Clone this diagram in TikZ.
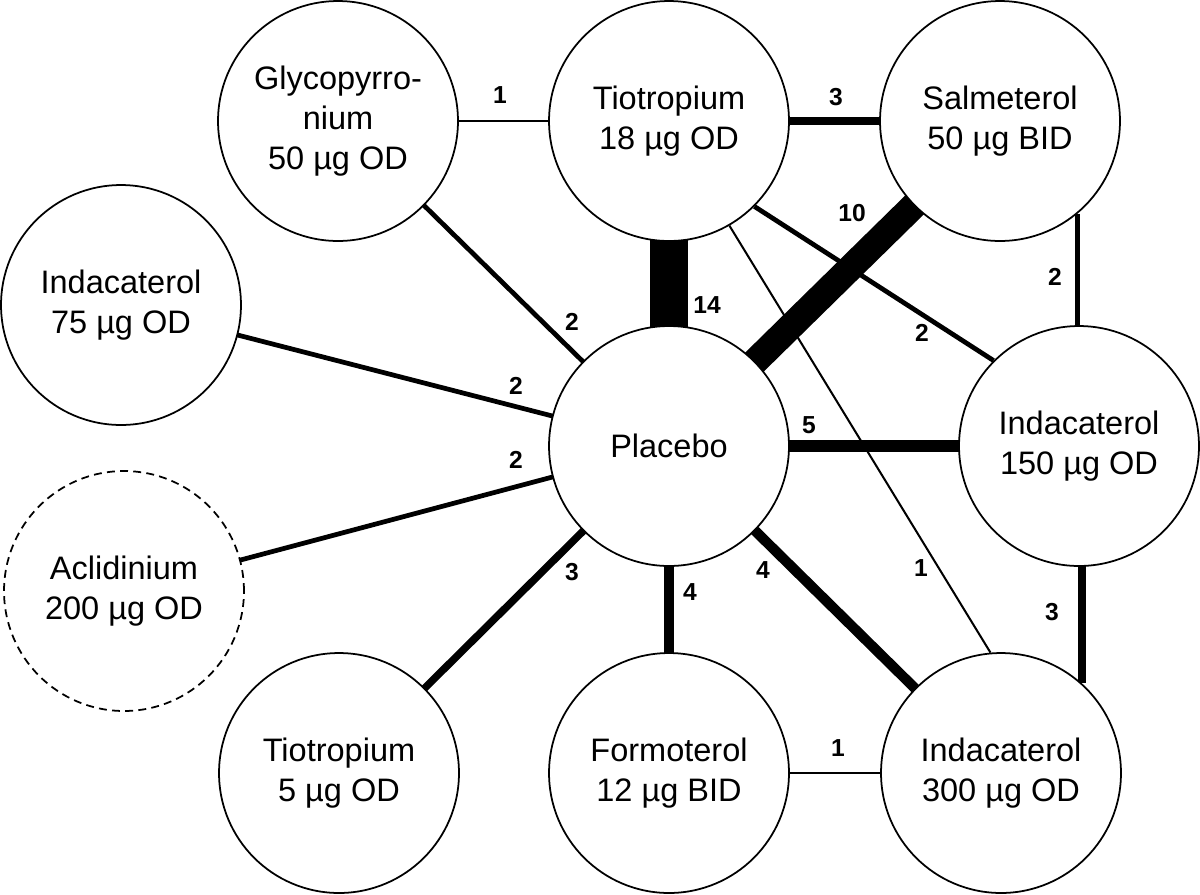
\documentclass[tikz,border=0pt]{standalone}
\usepackage{fontspec}
\setmainfont{Liberation Sans}
\usetikzlibrary{backgrounds}

\begin{document}
\begin{tikzpicture}[x=0.02cm, y=-0.02cm,
  drug/.style={circle, draw, line width=1pt, fill=white, minimum size=4.8cm,
    inner sep=0pt, align=center, font=\fontsize{18.5}{22.7}\selectfont},
  num/.style={font=\fontsize{14}{16}\selectfont\bfseries, inner sep=1pt},
  trials/.style={line width={#1*1.55pt-0.4pt}}]
\useasboundingbox (0,0) rectangle (1200,894);
% treatments
\node[drug] (glyco) at (338,121) {Glycopyrro-\\nium\\50 µg OD};
\node[drug] (tio18) at (669,121) {Tiotropium\\18 µg OD};
\node[drug] (salm) at (1000,121) {Salmeterol\\50 µg BID};
\node[drug] (ind75) at (121,305) {Indacaterol\\75 µg OD};
\node[drug] (placebo) at (669,446) {Placebo};
\node[drug] (ind150) at (1079,446) {Indacaterol\\150 µg OD};
\node[drug, dash pattern=on 4.5pt off 3pt] (aclid) at (124,591) {Aclidinium\\200 µg OD};
\node[drug] (tio5) at (339,773) {Tiotropium\\5 µg OD};
\node[drug] (formo) at (669,773) {Formoterol\\12 µg BID};
\node[drug] (ind300) at (1001,773) {Indacaterol\\300 µg OD};
%
\begin{scope}[on background layer]
\draw[trials=1] (glyco.center) -- (tio18.center);
\draw[trials=3] (tio18.center) -- (salm.center);
\draw[trials=2] (glyco.center) -- (placebo.center);
\draw[trials=14] (tio18.center) -- (placebo.center);
\draw[trials=10] (salm.center) -- (placebo.center);
\draw[trials=2] (tio18.-45) -- (ind150.135);
\draw[trials=1] (tio18.-60) -- (ind300.95);
\draw[trials=2] (salm.-50) -- (salm.-50 |- ind150.center);
\draw[trials=2] (ind75.center) -- (placebo.center);
\draw[trials=2] (aclid.center) -- (placebo.center);
\draw[trials=5] (placebo.center) -- (ind150.center);
\draw[trials=3] (placebo.center) -- (tio5.center);
\draw[trials=4] (placebo.center) -- (formo.center);
\draw[trials=4] (placebo.center) -- (ind300.center);
\draw[trials=3] (ind300.48) -- (ind300.48 |- ind150.center);
\draw[trials=1] (formo.center) -- (ind300.center);
\end{scope}
% number of trials
\node[num] (n1a) at (500,95) {1};
\node[num] (n3a) at (836,97) {3};
\node[num] (n10) at (852,213) {10};
\node[num] (n2a) at (1055,277) {2};
\node[num] (n2b) at (922,333) {2};
\node[num] (n14) at (707,305) {14};
\node[num] (n2c) at (572,322) {2};
\node[num] (n2d) at (516,386) {2};
\node[num] (n2e) at (516,460) {2};
\node[num] (n5) at (809,425) {5};
\node[num] (n3b) at (572,572) {3};
\node[num] (n4a) at (690,592) {4};
\node[num] (n4b) at (763,570) {4};
\node[num] (n1b) at (921,568) {1};
\node[num] (n3c) at (1052,612) {3};
\node[num] (n1c) at (838,748) {1};
\end{tikzpicture}
\end{document}
